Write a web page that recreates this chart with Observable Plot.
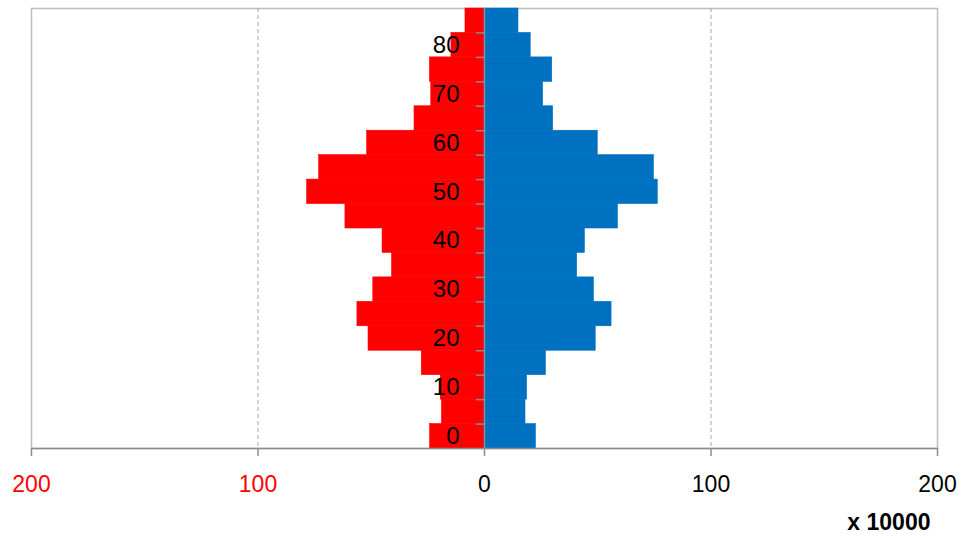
<!DOCTYPE html>
<html>
<head>
<meta charset="utf-8">
<script src="https://cdn.jsdelivr.net/npm/d3@7"></script>
<script src="https://cdn.jsdelivr.net/npm/@observablehq/plot@0.6"></script>
<style>
  html, body { margin: 0; padding: 0; background: #fff; }
  #chart svg { display: block; }
</style>
</head>
<body>
<div id="chart"></div>
<script>
// Age groups (lower bound of 5-year bins), bottom to top
const ageStarts = [0, 5, 10, 15, 20, 25, 30, 35, 40, 45, 50, 55, 60, 65, 70, 75, 80, 85];
// Left side (red), units of 10000
const leftValues = [24.0, 18.8, 19.3, 27.7, 51.2, 56.1, 49.1, 40.8, 45.0, 61.4, 78.3, 73.0, 51.8, 30.9, 23.5, 24.1, 14.6, 8.4];
// Right side (blue), units of 10000
const rightValues = [22.7, 18.1, 18.8, 27.1, 49.1, 56.1, 48.3, 40.9, 44.3, 58.9, 76.5, 74.8, 50.0, 30.3, 25.9, 29.9, 20.4, 15.0];
// Axis labels
const ageLabels = [0, 10, 20, 30, 40, 50, 60, 70, 80];
const xTicks = [-200, -100, 0, 100, 200];
const gridTicks = [-100, 100];
const unitLabel = "x 10000";

const binWidth = 5;
const rows = ageStarts.map((a, i) => ({age: a, left: leftValues[i], right: rightValues[i]}));
const boundaries = ageStarts.slice(1);

const font = "'Liberation Sans', Arial, sans-serif";

const chart = Plot.plot({
  width: 962,
  height: 538,
  marginLeft: 31,
  marginRight: 25,
  marginTop: 8,
  marginBottom: 90,
  style: {fontFamily: font, background: "#fff", overflow: "visible"},
  x: {domain: [-200, 200], axis: null},
  y: {domain: [0, 90], axis: null},
  marks: [
    Plot.frame({stroke: "#bdbdbd", strokeWidth: 1.5}),
    Plot.ruleX(gridTicks, {stroke: "#a6a6a6", strokeDasharray: "4,3"}),
    Plot.rectX(rows, {x1: 0, x2: d => -d.left, y1: "age", y2: d => d.age + binWidth, fill: "#ff0000", stroke: "#ff0000", strokeWidth: 0.6}),
    Plot.rectX(rows, {x1: 0, x2: "right", y1: "age", y2: d => d.age + binWidth, fill: "#0070c0", stroke: "#0070c0", strokeWidth: 0.6}),
    Plot.ruleX([0], {stroke: "#8c8c8c", strokeWidth: 1.5}),
    Plot.ruleY(boundaries, {y: d => d, x1: -3.6, x2: 0, stroke: "#8c8c8c", strokeWidth: 1.5}),
    Plot.ruleY([0], {stroke: "#8c8c8c", strokeWidth: 1.5}),
    Plot.axisX(xTicks, {tickSize: 8, stroke: "#8c8c8c", strokeWidth: 1.5, tickFormat: () => "", label: null}),
    Plot.text(ageLabels, {x: 0, y: d => d + binWidth / 2, text: d => String(d), dx: -25, textAnchor: "end", fontSize: 24, fill: "#000"}),
    Plot.text(xTicks, {x: d => d, frameAnchor: "bottom", dy: 43, text: d => String(Math.abs(d)), fill: d => d < 0 ? "#ff0000" : "#000", fontSize: 23}),
    Plot.text([unitLabel], {frameAnchor: "bottom-right", dx: -7, dy: 81, textAnchor: "end", fontSize: 23, fontWeight: "bold", fill: "#000"})
  ]
});
document.getElementById("chart").appendChild(chart);
</script>
</body>
</html>
